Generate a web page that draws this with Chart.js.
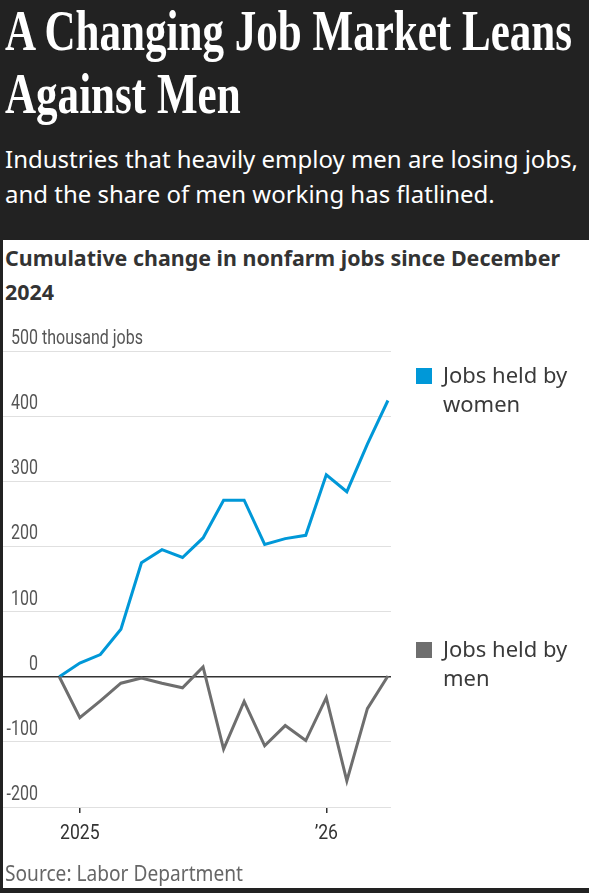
<!DOCTYPE html>
<html>
<head>
<meta charset="utf-8">
<script src="https://cdn.jsdelivr.net/npm/chart.js@4/dist/chart.umd.min.js"></script>
<style>
  html, body { margin: 0; padding: 0; }
  body { width: 589px; height: 893px; background: #222; position: relative; overflow: hidden; font-family: "Noto Sans", sans-serif; }
  .fit { position: absolute; left: 5px; white-space: nowrap; transform-origin: 0 0; }
  #title { top: 0; color: #fff; font-family: "Liberation Serif", serif; font-weight: bold; font-size: 56px; line-height: 63px; }
  #subtitle { top: 142px; color: #fff; font-size: 23px; line-height: 34.5px; }
  #panel { position: absolute; left: 3px; top: 240px; width: 586px; height: 648px; background: #fff; }
  #chartTitle { top: 240px; color: #333; font-weight: bold; font-size: 22px; line-height: 34px; }
  #source { top: 858px; color: #666; font-size: 21px; line-height: 30px; }
  #chartBox { position: absolute; left: 3px; top: 300px; width: 586px; height: 560px; }
  .legend { position: absolute; left: 443px; width: 140px; color: #3a3a3a; font-size: 22px; line-height: 29px; }
  .swatch { position: absolute; left: 416px; width: 16px; height: 16px; }
</style>
</head>
<body>
<div class="fit" id="title" data-w="567">A Changing Job Market Leans<br>Against Men</div>
<div class="fit" id="subtitle" data-w="573">Industries that heavily employ men are losing jobs,<br>and the share of men working has flatlined.</div>
<div id="panel"></div>
<div class="fit" id="chartTitle" data-w="555">Cumulative change in nonfarm jobs since December<br>2024</div>
<div id="chartBox"><canvas id="jobsChart"></canvas></div>
<div class="fit" id="source" data-w="238">Source: Labor Department</div>

<script>
// months from Dec 2024 to Apr 2026
const months = [
  "Dec 2024", "Jan 2025", "Feb 2025", "Mar 2025", "Apr 2025", "May 2025",
  "Jun 2025", "Jul 2025", "Aug 2025", "Sep 2025", "Oct 2025", "Nov 2025",
  "Dec 2025", "Jan 2026", "Feb 2026", "Mar 2026", "Apr 2026",
];

// thousand jobs, cumulative since Dec 2024
const womenJobs = [0, 21, 34, 73, 175, 195, 183, 213, 271, 271, 203, 212, 217, 310, 284, 357, 424];
const menJobs = [0, -63, -37, -10, -2, -10, -17, 15, -111, -38, -106, -75, -98, -32, -160, -49, 1];

const seriesNames = ["Jobs held by women", "Jobs held by men"];
const seriesColors = ["#0098d8", "#6e6e6e"];

const xTickMonths = ["Jan 2025", "Jan 2026"];
const xTickLabels = ["2025", "\u201926"];

const yTicks = [-200, -100, 0, 100, 200, 300, 400, 500];
const yUnit = "thousand jobs";

// squeeze header texts to the widths of the original
document.querySelectorAll(".fit").forEach((el) => {
  const target = parseFloat(el.dataset.w);
  const w = el.getBoundingClientRect().width;
  if (w > 0) el.style.transform = `scaleX(${target / w})`;
});

// legend next to the line ends
const legendTops = [360, 634];
seriesNames.forEach((name, i) => {
  const sw = document.createElement("div");
  sw.className = "swatch";
  sw.style.top = legendTops[i] + 8 + "px";
  sw.style.background = seriesColors[i];
  document.body.appendChild(sw);
  const lab = document.createElement("div");
  lab.className = "legend";
  lab.style.top = legendTops[i] + "px";
  lab.textContent = name;
  document.body.appendChild(lab);
});

const tickFont = '20px "Roboto", sans-serif';

function narrowText(ctx, text, x, y, align, squeeze) {
  ctx.save();
  ctx.translate(x, y);
  ctx.scale(squeeze, 1);
  ctx.textAlign = align;
  ctx.fillText(text, 0, 0);
  ctx.restore();
}

// tick labels: y labels above the gridlines, x labels under the tick marks
const tickLabelPlugin = {
  id: "tickLabels",
  beforeDatasetsDraw(chart) {
    const { x, y } = chart.scales;
    const ctx = chart.ctx;
    const right = chart.chartArea.left + 35;
    ctx.save();
    ctx.font = tickFont;
    ctx.textBaseline = "middle";
    ctx.fillStyle = "#555";
    y.ticks.forEach((t) => {
      const py = y.getPixelForValue(t.value) - 12;
      narrowText(ctx, String(t.value), right, py, "right", 0.8);
      if (t.value === yTicks[yTicks.length - 1]) {
        narrowText(ctx, " " + yUnit, right, py, "left", 0.8);
      }
    });
    ctx.fillStyle = "#333";
    x.ticks.forEach((t) => {
      const label = xTickLabels[xTickMonths.indexOf(months[t.value])];
      narrowText(ctx, label, x.getPixelForValue(t.value), chart.chartArea.bottom + 27, "center", 0.88);
    });
    ctx.restore();
  },
};

const ctx = document.getElementById("jobsChart").getContext("2d");

new Chart(ctx, {
  type: "line",
  data: {
    datasets: [
      {
        label: seriesNames[1],
        data: menJobs.map((v, i) => ({ x: i, y: v })),
        borderColor: seriesColors[1],
        borderWidth: 3,
        pointRadius: 0,
        tension: 0,
      },
      {
        label: seriesNames[0],
        data: womenJobs.map((v, i) => ({ x: i, y: v })),
        borderColor: seriesColors[0],
        borderWidth: 3,
        pointRadius: 0,
        tension: 0,
      },
    ],
  },
  options: {
    responsive: true,
    maintainAspectRatio: false,
    animation: false,
    layout: { padding: { top: 51, left: 0, right: 198, bottom: 47 } },
    plugins: {
      legend: { display: false },
      tooltip: { enabled: false },
    },
    scales: {
      x: {
        type: "linear",
        min: -2.74,
        max: 16.15,
        afterBuildTicks: (scale) => {
          scale.ticks = xTickMonths.map((m) => ({ value: months.indexOf(m) }));
        },
        ticks: { display: false },
        grid: { drawOnChartArea: false, drawTicks: true, tickLength: 6, color: "#333", lineWidth: 1.5 },
        border: { display: false },
      },
      y: {
        min: -200,
        max: 500,
        afterBuildTicks: (scale) => {
          scale.ticks = yTicks.map((v) => ({ value: v }));
        },
        ticks: { display: false },
        grid: {
          drawTicks: false,
          color: (c) => (c.tick && c.tick.value === 0 ? "#333" : "#e0e0e0"),
          lineWidth: (c) => (c.tick && c.tick.value === 0 ? 1.6 : 1),
        },
        border: { display: false },
      },
    },
  },
  plugins: [tickLabelPlugin],
});
</script>
</body>
</html>
